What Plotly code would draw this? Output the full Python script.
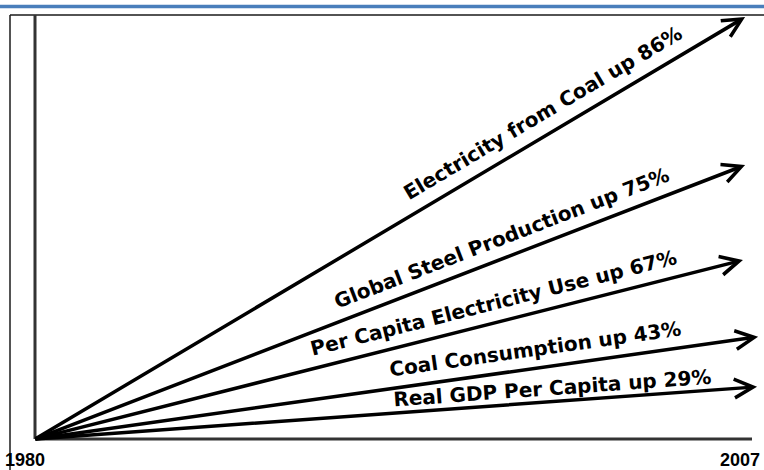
import math
import plotly.graph_objects as go

# ---------------- data ----------------
names = ["Electricity from Coal", "Global Steel Production",
         "Per Capita Electricity Use", "Coal Consumption", "Real GDP Per Capita"]
pct_up = [86, 75, 67, 43, 29]
start_year = 1980
end_year = 2007
tick_labels = ["1980", "2007"]
# arrow tips (x in years, y in relative height units, 0..100 = axis height)
arrow_end_year = [2006.74, 2006.74, 2006.66, 2007.23, 2007.19]
arrow_end_level = [99.5, 64.6, 42.2, 24.1, 12.3]

# ---------------- layout / style ----------------
W, H = 764, 470
X0_PX, Y0_PX = 35, 439          # pixel of the origin
PX_PER_YEAR = (752 - 35) / (end_year - start_year)
PX_PER_LEVEL = (439 - 15) / 100.0
x_range = [start_year - X0_PX / PX_PER_YEAR, start_year + (W - X0_PX) / PX_PER_YEAR]
y_range = [-(H - Y0_PX) / PX_PER_LEVEL, Y0_PX / PX_PER_LEVEL]

label_t = [0.73, 0.667, 0.654, 0.695, 0.718]   # position of label centre along arrow
label_offset = [21, 20, 20, 19, 14]             # px above the arrow line
LABEL_FONT = dict(family="DejaVu Sans, Arial, sans-serif", size=20, color="black")
YEAR_FONT = dict(family="Liberation Sans, Arial, sans-serif", size=18, color="black")

fig = go.Figure()
fig.add_trace(go.Scatter(x=[start_year], y=[0], mode="markers",
                         marker=dict(opacity=0), hoverinfo="skip", showlegend=False))

annotations = []
for name, p, ey, el, t, d in zip(names, pct_up, arrow_end_year, arrow_end_level,
                                 label_t, label_offset):
    # arrow
    annotations.append(dict(
        x=ey, y=el, xref="x", yref="y", ax=start_year, ay=0, axref="x", ayref="y",
        text="", showarrow=True, arrowhead=5, arrowsize=1.05, arrowwidth=3.5,
        arrowcolor="black", standoff=0, font=dict(size=1), borderpad=0))
    # label
    dx = (ey - start_year) * PX_PER_YEAR
    dy = el * PX_PER_LEVEL
    th = math.atan2(dy, dx)
    annotations.append(dict(
        x=start_year + t * (ey - start_year), y=t * el, xref="x", yref="y",
        text="<b>%s up %d%%</b>" % (name, p), showarrow=False,
        textangle=-math.degrees(th),
        xshift=-d * math.sin(th), yshift=d * math.cos(th),
        font=LABEL_FONT))

annotations.append(dict(x=start_year, y=0, xref="x", yref="y", text="<b>%s</b>" % tick_labels[0],
                        showarrow=False, xanchor="left", yanchor="top", xshift=-31, yshift=-10,
                        borderpad=0, font=YEAR_FONT))
annotations.append(dict(x=end_year, y=0, xref="x", yref="y", text="<b>%s</b>" % tick_labels[1],
                        showarrow=False, xanchor="right", yanchor="top", xshift=9, yshift=-10,
                        borderpad=0, font=YEAR_FONT))

def py(px):
    return 1 - px / H

def pxx(px):
    return px / W

shapes = [
    # blue bar at top
    dict(type="line", xref="paper", yref="paper", x0=0, x1=1, y0=py(6.5), y1=py(6.5),
         line=dict(color="#4a7ebb", width=3.5)),
    # thin frame
    dict(type="line", xref="paper", yref="paper", x0=pxx(10), x1=1, y0=py(15), y1=py(15),
         line=dict(color="#1a1a1a", width=1.5)),
    dict(type="line", xref="paper", yref="paper", x0=pxx(10), x1=pxx(10), y0=0, y1=py(15),
         line=dict(color="#1a1a1a", width=1.5)),
    # axes
    dict(type="line", xref="x", yref="y", x0=start_year, x1=start_year, y0=0, y1=100,
         line=dict(color="#333333", width=3)),
    dict(type="line", xref="x", yref="y", x0=start_year, x1=end_year, y0=0, y1=0,
         line=dict(color="#333333", width=3)),
]

fig.update_layout(
    width=W, height=H, margin=dict(l=0, r=0, t=0, b=0),
    paper_bgcolor="white", plot_bgcolor="white", showlegend=False,
    xaxis=dict(range=x_range, visible=False, fixedrange=True),
    yaxis=dict(range=y_range, visible=False, fixedrange=True),
    annotations=annotations, shapes=shapes,
)

fig.write_html("out.html", config={"displayModeBar": False},
               post_script="document.body.style.margin='0px';document.body.style.overflow='hidden';")
